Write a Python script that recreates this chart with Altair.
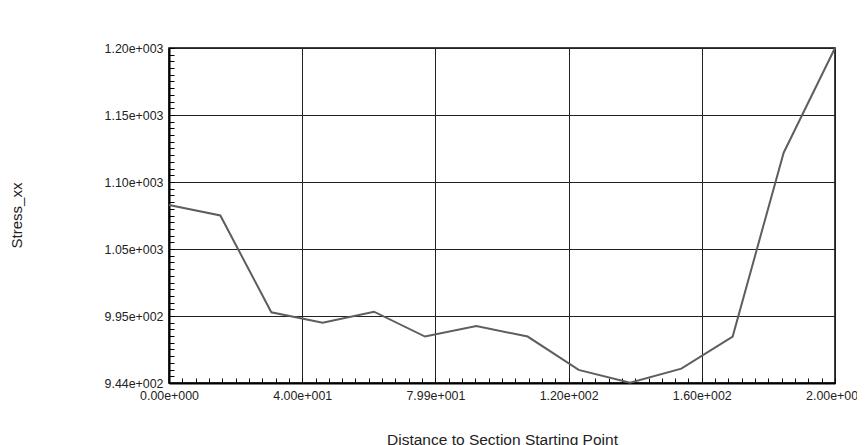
import json
import altair as alt
import pandas as pd

# data
distance = [0, 15.4, 30.7, 46.1, 61.5, 76.8, 92.2, 107.6, 122.9, 138.3, 153.7, 169.1, 184.4, 199.8]
stress = [1080, 1072, 998, 990, 998.5, 979.5, 987.5, 979.5, 954, 944.3, 955, 979.5, 1120, 1200]

# axis ticks
x_major = [0, 39.96, 79.92, 119.88, 159.84, 199.8]
x_labels = ["0.00e+000", "4.00e+001", "7.99e+001", "1.20e+002", "1.60e+002", "2.00e+002"]
x_minor = [round(i * 3.996, 3) for i in range(51)]
y_major = [944, 995.2, 1046.4, 1097.6, 1148.8, 1200]
y_labels = ["9.44e+002", "9.95e+002", "1.05e+003", "1.10e+003", "1.15e+003", "1.20e+003"]
y_minor = [round(944 + i * 5.12, 2) for i in range(51)]

df = pd.DataFrame({"d": distance, "s": stress})

FONT = "Liberation Sans"


def lab_expr(major, labels):
    m = json.dumps(major)
    l = json.dumps(labels)
    return f"indexof({m}, datum.value) >= 0 ? {l}[indexof({m}, datum.value)] : ''"


def grid_op(major):
    return {"condition": {"test": f"indexof({json.dumps(major)}, datum.value) >= 0", "value": 1}, "value": 0}


x_axis = alt.Axis(
    values=x_minor,
    labelExpr=lab_expr(x_major, x_labels),
    labelOverlap=False, labelFlush=False,
    labelFont=FONT, labelFontSize=12.4, labelColor="#222",
    labelPadding=11, labelBaseline="top",
    tickSize={"expr": "-5"}, tickColor="#000", tickWidth=1,
    grid=True, gridColor="#222", gridWidth=1, gridOpacity=grid_op(x_major),
    domainColor="#000", domainWidth=2,
    title="Distance to Section Starting Point",
    titleFont=FONT, titleFontSize=15.5, titleFontWeight="normal", titleColor="#222",
    titleX=333, titleY=61, titleAlign="center", titleBaseline="alphabetic",
)

y_axis = alt.Axis(
    values=y_minor,
    labelExpr=lab_expr(y_major, y_labels),
    labelOverlap=False, labelFlush=False,
    labelFont=FONT, labelFontSize=12.4, labelColor="#222",
    labelPadding=11,
    tickSize={"expr": "-5"}, tickColor="#000", tickWidth=1,
    grid=True, gridColor="#222", gridWidth=1, gridOpacity=grid_op(y_major),
    domainColor="#000", domainWidth=2,
    title="Stress_xx",
    titleFont=FONT, titleFontSize=15, titleFontWeight="normal", titleColor="#222",
    titleX=-152.5, titleY=167, titleAngle=270, titleAlign="center", titleBaseline="middle",
)

chart = (
    alt.Chart(df)
    .mark_line(color="#5e5e5e", strokeWidth=2)
    .encode(
        x=alt.X("d:Q", scale=alt.Scale(domain=[0, 199.8], nice=False, zero=False), axis=x_axis),
        y=alt.Y("s:Q", scale=alt.Scale(domain=[944, 1200], nice=False, zero=False), axis=y_axis),
    )
    .properties(
        width=666,
        height=335,
        autosize=alt.AutoSizeParams(type="none"),
        padding={"left": 161, "top": 40, "right": 22, "bottom": 62},
        background="white",
    )
    .configure_view(stroke="#000", strokeWidth=1.5)
)

chart.save("out.html", embed_options={"renderer": "svg", "actions": False})
